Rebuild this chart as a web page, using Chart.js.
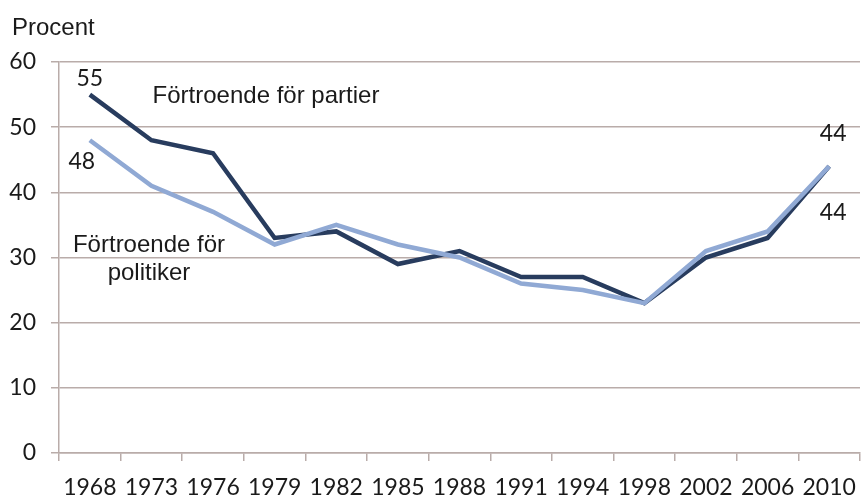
<!DOCTYPE html>
<html>
<head>
<meta charset="utf-8">
<script src="https://cdn.jsdelivr.net/npm/chart.js@4"></script>
<style>
  html, body { margin: 0; padding: 0; background: #fff; }
  #wrap { width: 861px; height: 498px; position: relative; }
</style>
</head>
<body>
<div id="wrap"><canvas id="trustChart" width="861" height="498"></canvas></div>
<script>
const years = ['1968', '1973', '1976', '1979', '1982', '1985', '1988', '1991', '1994', '1998', '2002', '2006', '2010'];
const partier = [55, 48, 46, 33, 34, 29, 31, 27, 27, 23, 30, 33, 44];
const politiker = [48, 41, 37, 32, 35, 32, 30, 26, 25, 23, 31, 34, 44];
const yTicks = [0, 10, 20, 30, 40, 50, 60];

const numFont = 'Lato, "DejaVu Sans", sans-serif';
const textFont = '"Liberation Sans", Arial, sans-serif';
const gridColor = '#b9aca9';

// value labels at the first and last point, plus the free text notes
const notes = {
    id: 'notes',
    afterDatasetsDraw(chart) {
        const { ctx, scales: { x, y } } = chart;
        const first = 0, last = years.length - 1;
        ctx.save();
        ctx.fillStyle = '#1a1a1a';
        ctx.font = '23px ' + numFont;
        ctx.textAlign = 'center';
        ctx.textBaseline = 'middle';
        ctx.fillText(String(partier[first]), x.getPixelForValue(first), y.getPixelForValue(partier[first]) - 16);
        ctx.fillText(String(politiker[first]), x.getPixelForValue(first) - 8, y.getPixelForValue(politiker[first]) + 21);
        ctx.fillText(String(partier[last]), x.getPixelForValue(last) + 4, y.getPixelForValue(partier[last]) - 33);
        ctx.fillText(String(politiker[last]), x.getPixelForValue(last) + 4, y.getPixelForValue(politiker[last]) + 46);

        ctx.font = '24px ' + textFont;
        ctx.fillText('Förtroende för partier', 266, 96);
        ctx.fillText('Förtroende för', 149, 245);
        ctx.fillText('politiker', 149, 273);

        ctx.textAlign = 'left';
        ctx.textBaseline = 'alphabetic';
        ctx.fillText('Procent', 12, 35);
        ctx.restore();
    }
};

new Chart(document.getElementById('trustChart'), {
    type: 'line',
    data: {
        labels: years,
        datasets: [
            {
                label: 'Förtroende för politiker',
                data: politiker,
                borderColor: '#90a9d4',
                borderWidth: 4.5,
                pointRadius: 0,
                tension: 0
            },
            {
                label: 'Förtroende för partier',
                data: partier,
                borderColor: '#283c5e',
                borderWidth: 4.5,
                pointRadius: 0,
                tension: 0
            }
        ]
    },
    options: {
        responsive: false,
        animation: false,
        layout: { padding: { top: 62, right: 1, left: 0, bottom: 0 } },
        plugins: {
            legend: { display: false },
            tooltip: { enabled: false }
        },
        scales: {
            x: {
                offset: true,
                grid: { offset: true, drawOnChartArea: false, color: gridColor, tickLength: 8, lineWidth: 1.5 },
                border: { color: gridColor, width: 1.5 },
                ticks: { color: '#1a1a1a', font: { family: numFont, size: 23 }, padding: 13, maxRotation: 0, autoSkip: false },
                afterFit(scale) {
                    scale.height = 45;
                    scale.paddingLeft = 0;
                    scale.paddingRight = 0;
                }
            },
            y: {
                min: 0,
                max: 60,
                afterBuildTicks(scale) { scale.ticks = yTicks.map(v => ({ value: v })); },
                grid: { color: gridColor, tickLength: 8, lineWidth: 1.5 },
                border: { color: gridColor, width: 1.5 },
                ticks: { color: '#1a1a1a', font: { family: numFont, size: 23 }, padding: 15 },
                afterFit(scale) {
                    scale.width = 59;
                    scale.paddingTop = 0;
                    scale.paddingBottom = 0;
                }
            }
        }
    },
    plugins: [notes]
});
</script>
</body>
</html>
